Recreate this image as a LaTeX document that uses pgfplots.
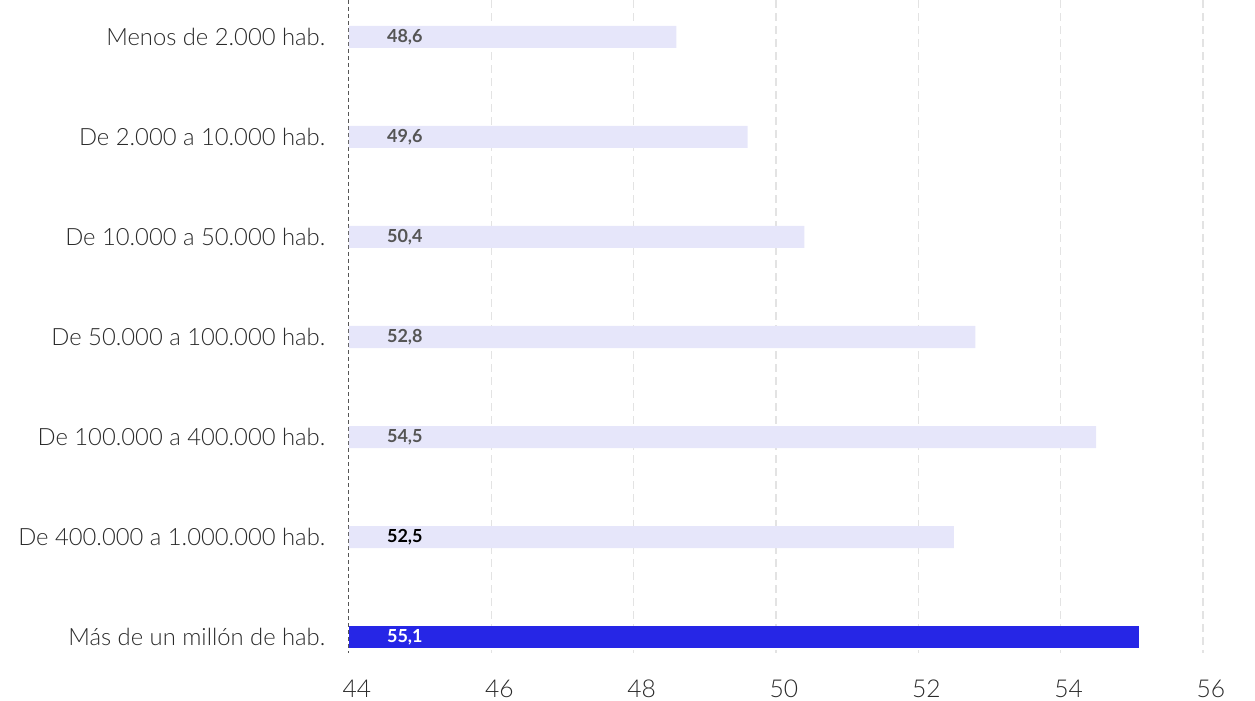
\documentclass[border=0pt]{standalone}
\usepackage{fontspec}
\setmainfont{Lato}
\newfontfamily\lightfont{Lato Light}
\usepackage{pgfplots}
\pgfplotsset{compat=1.18}
\definecolor{lav}{HTML}{E6E6FA}
\definecolor{blu}{HTML}{2626E6}
\definecolor{grd}{HTML}{E3E3E3}
\definecolor{vgray}{HTML}{555555}
\definecolor{txt}{HTML}{2A2A2A}
\begin{document}
\begin{tikzpicture}
\path[use as bounding box] (-174.5pt,-24pt) rectangle (453pt,326.5pt);
\begin{axis}[at={(0,0)}, anchor=south west, scale only axis,
  width=427pt, height=326.5pt,
  xmin=44, xmax=56, ymin=-0.37, ymax=6.16, y dir=reverse,
  xtick={46,48,...,56}, ytick={0,...,6},
  extra x ticks={44},
  extra x tick style={grid style={vgray, dash pattern=on 2pt off 1.5pt, line width=0.5pt}},
  yticklabels={Menos de 2.000 hab., De 2.000 a 10.000 hab., De 10.000 a 50.000 hab., De 50.000 a 100.000 hab., De 100.000 a 400.000 hab., De 400.000 a 1.000.000 hab., Más de un millón de hab.},
  axis line style={draw=none}, tick style={draw=none},
  xmajorgrids, grid style={grd, dash pattern=on 4pt off 2.5pt, line width=0.6pt},
  ticklabel style={font=\lightfont\fontsize{11.9}{14}\selectfont, text=txt},
  xticklabel style={yshift=-10pt, xshift=4pt, font=\lightfont\fontsize{12.3}{14}\selectfont},
  yticklabel style={xshift=-4pt},
  xbar, bar width=11pt, bar shift=0pt,
  /pgf/number format/assume math mode=true,
  clip=true,
]
\addplot[fill=lav, draw=none] coordinates {(48.6,0) (49.6,1) (50.4,2) (52.8,3) (54.5,4) (52.5,5)};
\addplot[fill=blu, draw=none] coordinates {(55.1,6)};
\end{axis}
\begin{axis}[at={(0,0)}, anchor=south west, scale only axis,
  width=427pt, height=326.5pt,
  xmin=44, xmax=56, ymin=-0.37, ymax=6.16, y dir=reverse,
  hide axis, clip=false]
\node[anchor=west, xshift=15.5pt, font=\bfseries\fontsize{9}{10}\selectfont, text=vgray] at (axis cs:44,0) {48,6};
\node[anchor=west, xshift=15.5pt, font=\bfseries\fontsize{9}{10}\selectfont, text=vgray] at (axis cs:44,1) {49,6};
\node[anchor=west, xshift=15.5pt, font=\bfseries\fontsize{9}{10}\selectfont, text=vgray] at (axis cs:44,2) {50,4};
\node[anchor=west, xshift=15.5pt, font=\bfseries\fontsize{9}{10}\selectfont, text=vgray] at (axis cs:44,3) {52,8};
\node[anchor=west, xshift=15.5pt, font=\bfseries\fontsize{9}{10}\selectfont, text=vgray] at (axis cs:44,4) {54,5};
\node[anchor=west, xshift=15.5pt, font=\bfseries\fontsize{9}{10}\selectfont, text=black] at (axis cs:44,5) {52,5};
\node[anchor=west, xshift=15.5pt, font=\bfseries\fontsize{9}{10}\selectfont, text=white] at (axis cs:44,6) {55,1};
\end{axis}
\end{tikzpicture}
\end{document}
